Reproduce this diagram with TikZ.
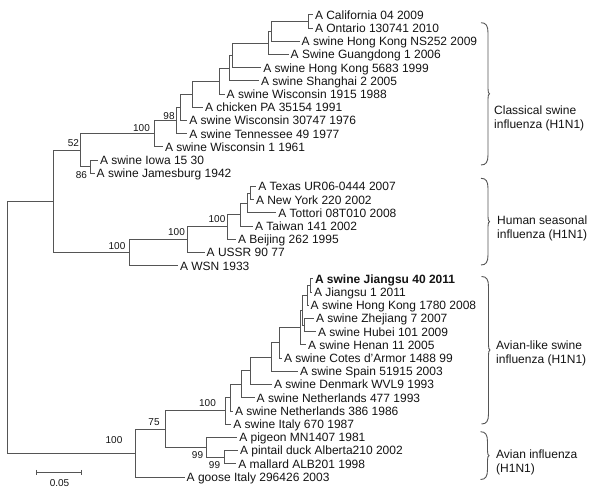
\documentclass[tikz,border=0pt]{standalone}
\usepackage{fontspec}
\setmainfont{Liberation Sans}
\definecolor{treegray}{RGB}{85,85,85}
\definecolor{txt}{RGB}{20,20,20}
\begin{document}
\begin{tikzpicture}[x=1pt,y=-1pt,
 br/.style={draw=treegray,line width=1pt},
 leaf/.style={anchor=west,inner sep=0pt,outer sep=0pt,text=txt,font=\fontsize{12}{14}\selectfont,text height=8.6pt,text depth=0pt},
 boot/.style={inner sep=0pt,text=txt,font=\fontsize{10}{12}\selectfont},
 clade/.style={anchor=west,align=left,inner sep=0pt,text=txt,font=\fontsize{12}{14}\selectfont},
 bracepath/.style={draw=treegray,line width=0.9pt}]
\useasboundingbox (0,0) rectangle (600,494);
\fill[white] (0,0) rectangle (600,494);

% leaves
\node[leaf] (cal) at (315,15.0) {A California 04 2009};
\node[leaf] (ont) at (315,28.2) {A Ontario 130741 2010};
\node[leaf] (ns) at (301.7,41.4) {A swine Hong Kong NS252 2009};
\node[leaf] (gd) at (290.7,54.6) {A Swine Guangdong 1 2006};
\node[leaf] (hk56) at (263.3,67.8) {A swine Hong Kong 5683 1999};
\node[leaf] (sh) at (261,81.0) {A swine Shanghai 2 2005};
\node[leaf] (w1915) at (226.7,94.2) {A swine Wisconsin 1915 1988};
\node[leaf] (chk) at (205,107.4) {A chicken PA 35154 1991};
\node[leaf] (w3) at (189.3,120.6) {A swine Wisconsin 30747 1976};
\node[leaf] (ten) at (189.3,133.8) {A swine Tennessee 49 1977};
\node[leaf] (w1) at (165,147.0) {A swine Wisconsin 1 1961};
\node[leaf] (iowa) at (100,160.2) {A swine Iowa 15 30};
\node[leaf] (jam) at (96.7,173.4) {A swine Jamesburg 1942};
\node[leaf] (tex) at (258.3,186.6) {A Texas UR06-0444 2007};
\node[leaf] (ny) at (256,199.8) {A New York 220 2002};
\node[leaf] (tot) at (278.3,213.0) {A Tottori 08T010 2008};
\node[leaf] (tw) at (255,226.2) {A Taiwan 141 2002};
\node[leaf] (bj) at (238,239.4) {A Beijing 262 1995};
\node[leaf] (ussr) at (206.7,252.6) {A USSR 90 77};
\node[leaf] (wsn) at (180,265.8) {A WSN 1933};
\node[leaf] (js40) at (315,279.0) {\bfseries A swine Jiangsu 40 2011};
\node[leaf] (js1) at (314,292.2) {A Jiangsu 1 2011};
\node[leaf] (hk17) at (310.7,305.4) {A swine Hong Kong 1780 2008};
\node[leaf] (zj) at (316,318.6) {A swine Zhejiang 7 2007};
\node[leaf] (hb) at (318,331.8) {A swine Hubei 101 2009};
\node[leaf] (hn) at (308,345.0) {A swine Henan 11 2005};
\node[leaf] (ca) at (284,358.2) {A swine Cotes d'Armor 1488 99};
\node[leaf] (sp) at (300,371.4) {A swine Spain 51915 2003};
\node[leaf] (dk) at (274,384.6) {A swine Denmark WVL9 1993};
\node[leaf] (n477) at (256.7,397.8) {A swine Netherlands 477 1993};
\node[leaf] (n386) at (235,411.0) {A swine Netherlands 386 1986};
\node[leaf] (it) at (233.3,424.2) {A swine Italy 670 1987};
\node[leaf] (pg) at (239.3,437.4) {A pigeon MN1407 1981};
\node[leaf] (pt) at (240,450.6) {A pintail duck Alberta210 2002};
\node[leaf] (ml) at (238.3,463.8) {A mallard ALB201 1998};
\node[leaf] (gs) at (186.7,477.0) {A goose Italy 296426 2003};

% internal nodes
\coordinate (nCO) at (308,21.6);
\coordinate (nH) at (271.7,31.5);
\coordinate (nG) at (268,43.05);
\coordinate (nF) at (232.3,55.4);
\coordinate (nE) at (229.3,68.2);
\coordinate (nD) at (219.3,81.2);
\coordinate (nC) at (192.3,94.3);
\coordinate (nB) at (180,107.45);
\coordinate (n98) at (176.7,120.6);
\coordinate (nC100) at (154,133.8);
\coordinate (nIJ) at (90,166.8);
\coordinate (n52) at (80.7,150.3);
\coordinate (nTN) at (250,193.2);
\coordinate (nh5) at (247.3,203.1);
\coordinate (nh4) at (240.7,214.65);
\coordinate (nh3) at (227.3,227.0);
\coordinate (nh2) at (187.3,239.8);
\coordinate (nh1) at (129.3,252.8);
\coordinate (nUp) at (53.3,201.55);
\coordinate (nJ) at (310,285.6);
\coordinate (nJ2) at (307.3,295.5);
\coordinate (nZH) at (304.3,325.2);
\coordinate (n3) at (302.5,310.35);
\coordinate (n4) at (300,327.7);
\coordinate (n5) at (279,342.95);
\coordinate (n6) at (271.7,357.2);
\coordinate (n7) at (250,370.9);
\coordinate (n8) at (241.7,384.35);
\coordinate (n9) at (230.7,397.7);
\coordinate (nAL) at (225.5,410.95);
\coordinate (n99b) at (224,457.2);
\coordinate (n99a) at (206.7,447.3);
\coordinate (n75) at (165,429.1);
\coordinate (nLow) at (135,453.05);
\coordinate (root) at (7.3,327.3);

% branches
\draw[br] (nCO) |- ([xshift=-2pt]cal.west);
\draw[br] (nCO) |- ([xshift=-2pt]ont.west);
\draw[br] (nH) |- (nCO);
\draw[br] (nH) |- ([xshift=-2pt]ns.west);
\draw[br] (nG) |- (nH);
\draw[br] (nG) |- ([xshift=-2pt]gd.west);
\draw[br] (nF) |- (nG);
\draw[br] (nF) |- ([xshift=-2pt]hk56.west);
\draw[br] (nE) |- (nF);
\draw[br] (nE) |- ([xshift=-2pt]sh.west);
\draw[br] (nD) |- (nE);
\draw[br] (nD) |- ([xshift=-2pt]w1915.west);
\draw[br] (nC) |- (nD);
\draw[br] (nC) |- ([xshift=-2pt]chk.west);
\draw[br] (nB) |- (nC);
\draw[br] (nB) |- ([xshift=-2pt]w3.west);
\draw[br] (n98) |- (nB);
\draw[br] (n98) |- ([xshift=-2pt]ten.west);
\draw[br] (nC100) |- (n98);
\draw[br] (nC100) |- ([xshift=-2pt]w1.west);
\draw[br] (nIJ) |- ([xshift=-2pt]iowa.west);
\draw[br] (nIJ) |- ([xshift=-2pt]jam.west);
\draw[br] (n52) |- (nC100);
\draw[br] (n52) |- (nIJ);
\draw[br] (nTN) |- ([xshift=-2pt]tex.west);
\draw[br] (nTN) |- ([xshift=-2pt]ny.west);
\draw[br] (nh5) |- (nTN);
\draw[br] (nh5) |- ([xshift=-2pt]tot.west);
\draw[br] (nh4) |- (nh5);
\draw[br] (nh4) |- ([xshift=-2pt]tw.west);
\draw[br] (nh3) |- (nh4);
\draw[br] (nh3) |- ([xshift=-2pt]bj.west);
\draw[br] (nh2) |- (nh3);
\draw[br] (nh2) |- ([xshift=-2pt]ussr.west);
\draw[br] (nh1) |- (nh2);
\draw[br] (nh1) |- ([xshift=-2pt]wsn.west);
\draw[br] (nUp) |- (n52);
\draw[br] (nUp) |- (nh1);
\draw[br] (nJ) |- ([xshift=-2pt]js40.west);
\draw[br] (nJ) |- ([xshift=-2pt]js1.west);
\draw[br] (nJ2) |- (nJ);
\draw[br] (nJ2) |- ([xshift=-2pt]hk17.west);
\draw[br] (nZH) |- ([xshift=-2pt]zj.west);
\draw[br] (nZH) |- ([xshift=-2pt]hb.west);
\draw[br] (n3) |- (nJ2);
\draw[br] (n3) |- (nZH);
\draw[br] (n4) |- (n3);
\draw[br] (n4) |- ([xshift=-2pt]hn.west);
\draw[br] (n5) |- (n4);
\draw[br] (n5) |- ([xshift=-2pt]ca.west);
\draw[br] (n6) |- (n5);
\draw[br] (n6) |- ([xshift=-2pt]sp.west);
\draw[br] (n7) |- (n6);
\draw[br] (n7) |- ([xshift=-2pt]dk.west);
\draw[br] (n8) |- (n7);
\draw[br] (n8) |- ([xshift=-2pt]n477.west);
\draw[br] (n9) |- (n8);
\draw[br] (n9) |- ([xshift=-2pt]n386.west);
\draw[br] (nAL) |- (n9);
\draw[br] (nAL) |- ([xshift=-2pt]it.west);
\draw[br] (n99b) |- ([xshift=-2pt]pt.west);
\draw[br] (n99b) |- ([xshift=-2pt]ml.west);
\draw[br] (n99a) |- ([xshift=-2pt]pg.west);
\draw[br] (n99a) |- (n99b);
\draw[br] (n75) |- (nAL);
\draw[br] (n75) |- (n99a);
\draw[br] (nLow) |- (n75);
\draw[br] (nLow) |- ([xshift=-2pt]gs.west);
\draw[br] (root) |- (nUp);
\draw[br] (root) |- (nLow);

% bootstrap values
\node[boot] (b52) at (73.5,143) {52};
\node[boot] (b100c) at (141.5,128.5) {100};
\node[boot] (b98) at (169,116) {98};
\node[boot] (b86) at (81.5,175.5) {86};
\node[boot] (b100h1) at (117,246) {100};
\node[boot] (b100h2) at (176.5,232) {100};
\node[boot] (b100h3) at (217,219) {100};
\node[boot] (b100low) at (114,440) {100};
\node[boot] (b75) at (154,422) {75};
\node[boot] (b100al) at (207.5,403.5) {100};
\node[boot] (b99a) at (197.5,455.5) {99};
\node[boot] (b99b) at (214.5,465.5) {99};

% braces: #1 left x, #2 top y, #3 bottom y, #4 middle y
\newcommand{\cladebrace}[4]{%
 \draw[bracepath] (#1,#2) .. controls (#1+5,#2) and (#1+7,#2+3) .. (#1+7,#2+10)
   -- (#1+7,#4-5) .. controls (#1+7,#4-2) and (#1+7.5,#4) .. (#1+8.5,#4)
   .. controls (#1+7.5,#4) and (#1+7,#4+2) .. (#1+7,#4+5)
   -- (#1+7,#3-10) .. controls (#1+7,#3-3) and (#1+5,#3) .. (#1,#3);}
\cladebrace{481}{22.7}{165}{93.8}
\cladebrace{481}{178.3}{265}{221.6}
\cladebrace{481.5}{276.5}{424}{350}
\cladebrace{480.5}{431.7}{479.5}{455.6}

\node[clade] (lclass) at (494,118) {Classical swine\\influenza (H1N1)};
\node[clade] (lhum) at (497,228.5) {Human seasonal\\influenza (H1N1)};
\node[clade] (lal) at (496,353) {Avian-like swine\\influenza (H1N1)};
\node[clade] (lav) at (496,462.5) {Avian influenza\\(H1N1)};

% scale bar
\coordinate (sb1) at (36.7,472.3);
\coordinate (sb2) at (81.7,472.3);
\draw[br] (sb1) -- (sb2);
\draw[br] ([yshift=2.5pt]sb1) -- ([yshift=-2.5pt]sb1);
\draw[br] ([yshift=2.5pt]sb2) -- ([yshift=-2.5pt]sb2);
\node[boot] (sblabel) at (59.5,483) {0.05};
\end{tikzpicture}
\end{document}
